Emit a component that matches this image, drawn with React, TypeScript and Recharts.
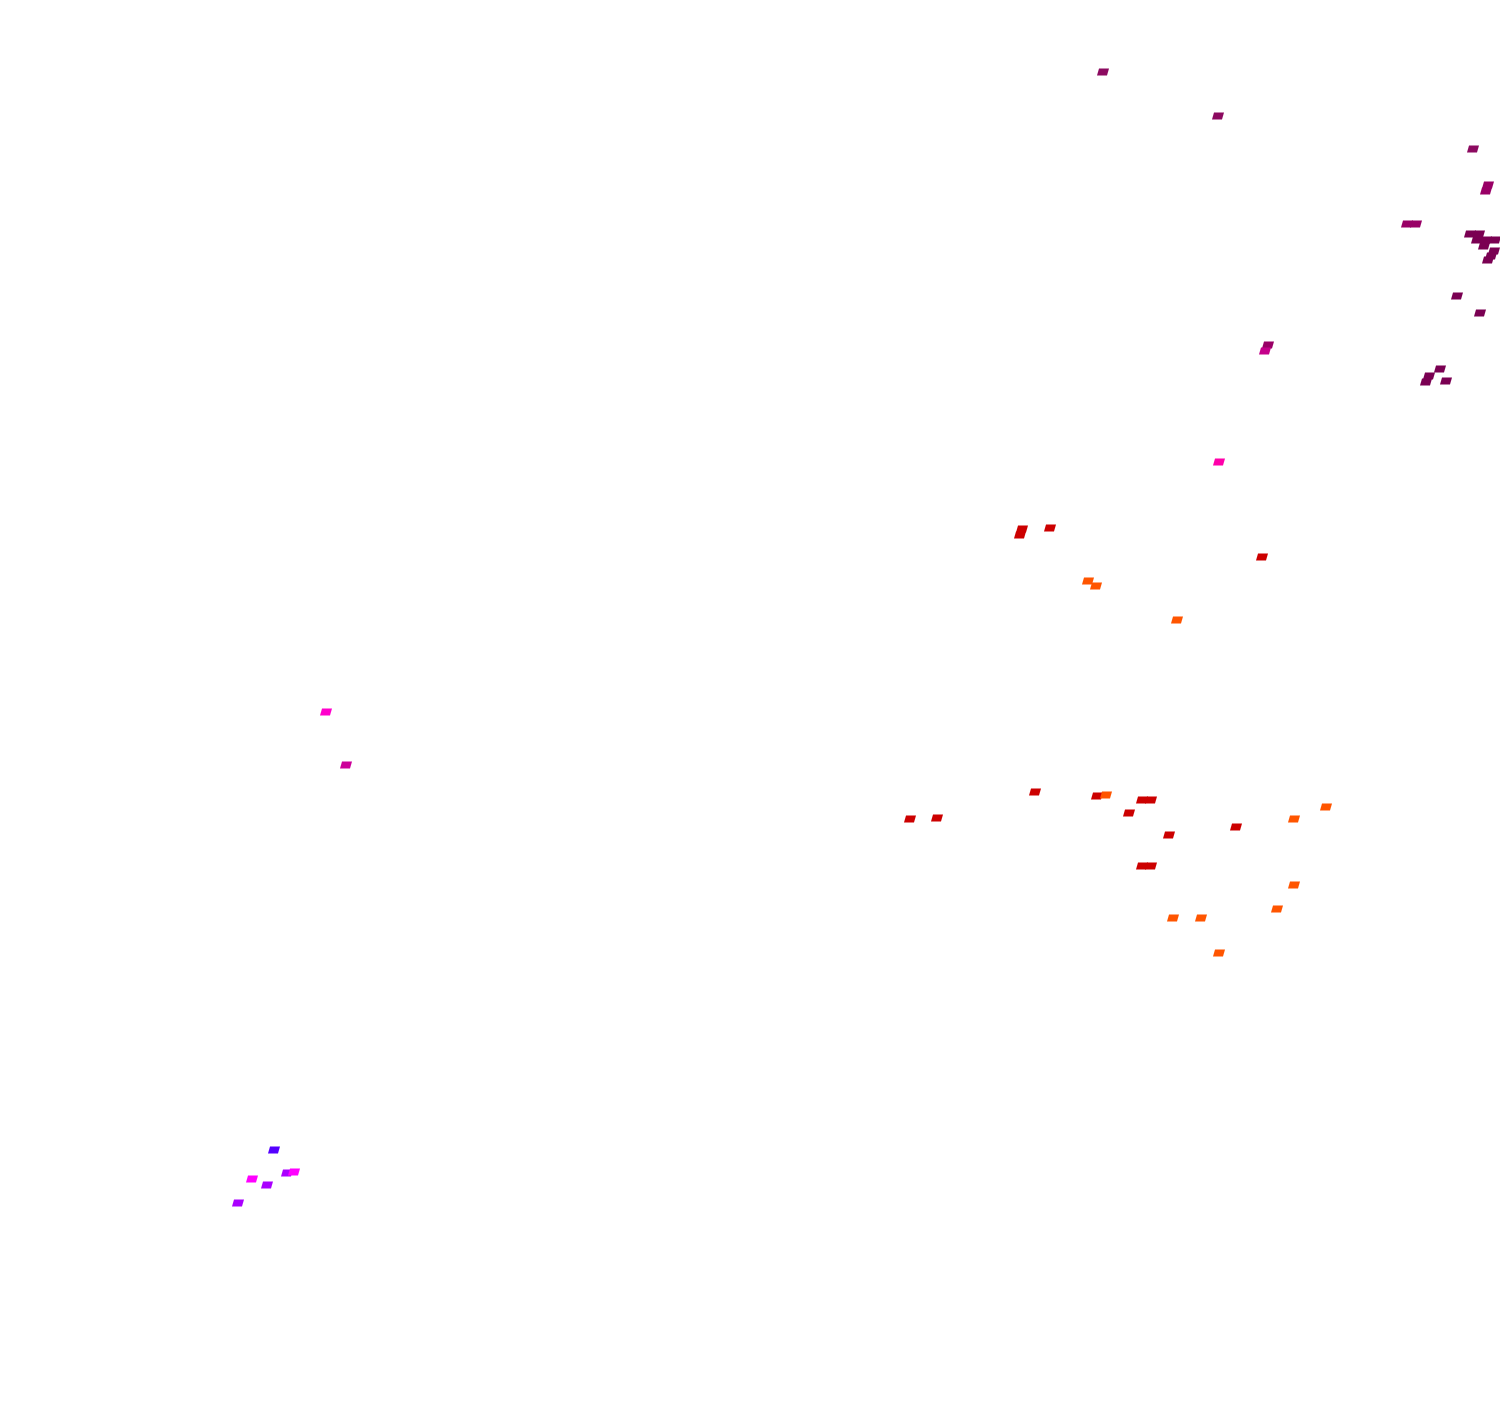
import React from "react";
import { ScatterChart, Scatter, XAxis, YAxis } from "recharts";

// point positions, in page pixels (x right, y down)
const plumX = [1103, 1218, 1473];
const plumY = [72, 116, 149];

const berryX = [1488, 1486, 1407, 1416, 1268];
const berryY = [185, 191, 224, 224, 345];

const wineX = [1470, 1479, 1477, 1486, 1495, 1484, 1494, 1491, 1488, 1457, 1480, 1440, 1429, 1426, 1446];
const wineY = [234, 234, 240, 240, 240, 246, 251, 256, 260, 296, 313, 369, 376, 382, 381];

const deepMagentaX = [1265];
const deepMagentaY = [351];

const hotPinkX = [1219];
const hotPinkY = [462];

const redX = [1022, 1020, 1050, 1262, 910, 937, 1035, 1097, 1142, 1151, 1129, 1169, 1142, 1151, 1236];
const redY = [529, 535, 528, 557, 819, 818, 792, 796, 800, 800, 813, 835, 866, 866, 827];

const orangeX = [1088, 1096, 1177, 1106, 1326, 1294, 1294, 1277, 1173, 1201, 1219];
const orangeY = [581, 586, 620, 795, 807, 819, 885, 909, 918, 918, 953];

const pinkX = [326];
const pinkY = [712];

const roseX = [346];
const roseY = [765];

const blueX = [274];
const blueY = [1150];

const violetX = [287, 267, 238];
const violetY = [1173, 1185, 1203];

const fuchsiaX = [294, 252];
const fuchsiaY = [1172, 1179];

const toPoints = (xs: number[], ys: number[]) => xs.map((x, i) => ({ x, y: ys[i] }));

const series = [
    { name: "plum", color: "#8c0a60", data: toPoints(plumX, plumY) },
    { name: "berry", color: "#990066", data: toPoints(berryX, berryY) },
    { name: "wine", color: "#7a0052", data: toPoints(wineX, wineY) },
    { name: "deepMagenta", color: "#c4008a", data: toPoints(deepMagentaX, deepMagentaY) },
    { name: "hotPink", color: "#ff00aa", data: toPoints(hotPinkX, hotPinkY) },
    { name: "red", color: "#cc0000", data: toPoints(redX, redY) },
    { name: "orange", color: "#ff5500", data: toPoints(orangeX, orangeY) },
    { name: "pink", color: "#ff00cc", data: toPoints(pinkX, pinkY) },
    { name: "rose", color: "#cc0099", data: toPoints(roseX, roseY) },
    { name: "blue", color: "#5500ff", data: toPoints(blueX, blueY) },
    { name: "violet", color: "#aa00ff", data: toPoints(violetX, violetY) },
    { name: "fuchsia", color: "#ff00ff", data: toPoints(fuchsiaX, fuchsiaY) },
];

// small slanted tile
function Tile(props: any) {
    const { cx, cy, fill } = props;
    if (cx == null || cy == null) return null;
    const d = `M${cx - 6},${cy + 3.5} L${cx + 4},${cy + 3.5} L${cx + 6},${cy - 3.5} L${cx - 4},${cy - 3.5} Z`;
    return <path d={d} fill={fill} />;
}

export default function App() {
    return (
        <div style={{ position: "absolute", left: 0, top: 0, background: "#fff" }}>
            <ScatterChart width={1500} height={1408} margin={{ top: 0, right: 0, bottom: 0, left: 0 }}>
                <XAxis type="number" dataKey="x" domain={[0, 1500]} hide />
                <YAxis type="number" dataKey="y" domain={[0, 1408]} reversed hide />
                {series.map((s) => (
                    <Scatter
                        key={s.name}
                        name={s.name}
                        data={s.data}
                        fill={s.color}
                        shape={<Tile />}
                        isAnimationActive={false}
                    />
                ))}
            </ScatterChart>
        </div>
    );
}
